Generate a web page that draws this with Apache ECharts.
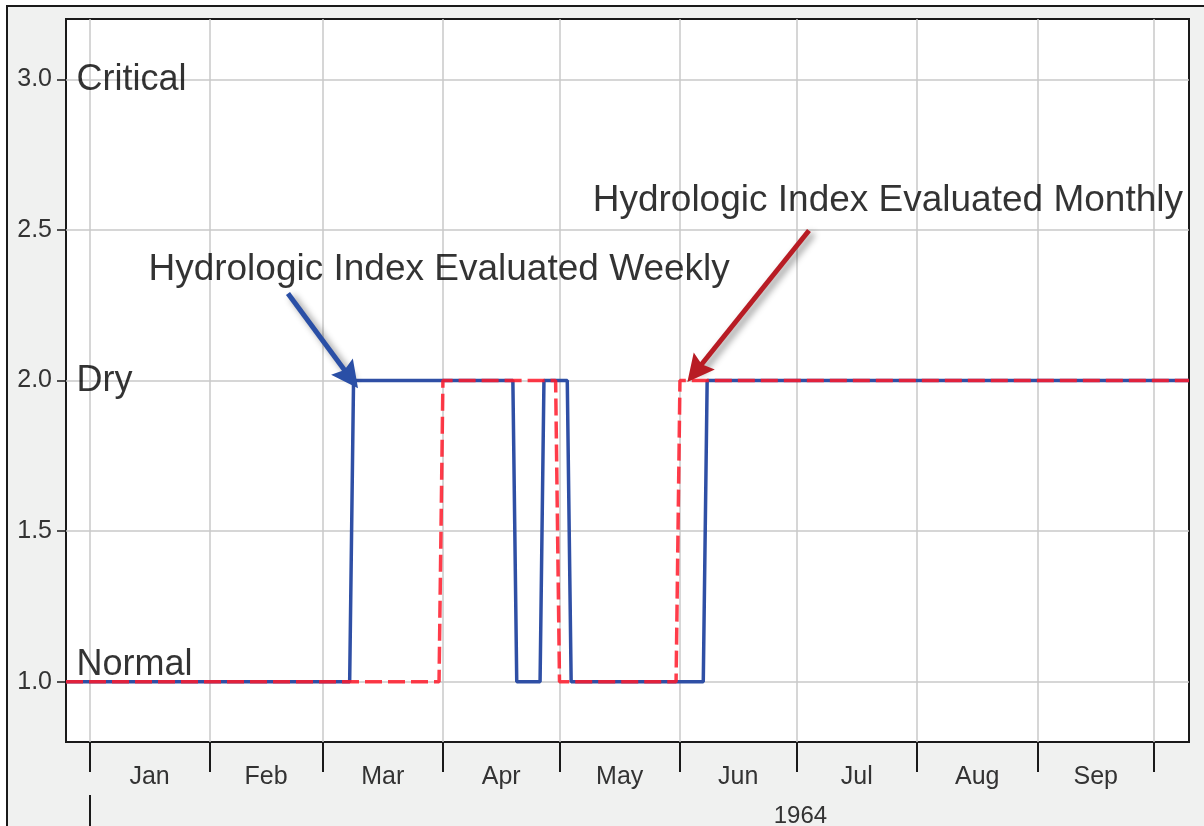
<!DOCTYPE html>
<html>
<head>
<meta charset="utf-8">
<script src="https://cdn.jsdelivr.net/npm/echarts@6/dist/echarts.min.js"></script>
<style>
  html, body { margin: 0; padding: 0; background: #ffffff; overflow: hidden; }
  #wrap { position: absolute; left: 6px; top: 5px; width: 1198px; height: 821px;
          border-left: 2px solid #1a1a1a; border-top: 2px solid #1a1a1a; background: #f0f1f0; }
  #chart { width: 1198px; height: 821px; }
</style>
</head>
<body>
<div id="wrap"><div id="chart"></div></div>
<script>
// ---- data ----
const axisStart = '1963-12-26';
const axisEnd = '1964-10-10';
const monthStarts = ['1964-01-01','1964-02-01','1964-03-01','1964-04-01','1964-05-01','1964-06-01','1964-07-01','1964-08-01','1964-09-01','1964-10-01'];
const monthLabels = ['Jan','Feb','Mar','Apr','May','Jun','Jul','Aug','Sep'];
const yearStart = '1964-01-01';
const yearEnd = '1965-01-01';
const yearLabel = '1964';
const yTicks = [1.0, 1.5, 2.0, 2.5, 3.0];

// Hydrologic index evaluated weekly (change points)
const weeklyDates = ['1963-12-26','1964-03-08','1964-03-09','1964-04-19','1964-04-20','1964-04-26','1964-04-27','1964-05-03','1964-05-04','1964-06-07','1964-06-08','1964-10-10'];
const weeklyIndex = [1, 1, 2, 2, 1, 1, 2, 2, 1, 1, 2, 2];
// Hydrologic index evaluated monthly (change points)
const monthlyDates = ['1963-12-26','1964-03-31','1964-04-01','1964-04-30','1964-05-01','1964-05-31','1964-06-01','1964-10-10'];
const monthlyIndex = [1, 1, 2, 2, 1, 1, 2, 2];

// level names
const levelNames = ['Normal', 'Dry', 'Critical'];
const levelValues = [1.06, 2.0, 3.0];

// annotations (text anchor and arrow tail/tip, in data terms)
const weeklyNote = { text: 'Hydrologic Index Evaluated Weekly', at: ['1964-01-16T02:00', 2.369] };
const monthlyNote = { text: 'Hydrologic Index Evaluated Monthly', at: ['1964-05-09T10:00', 2.598] };
const weeklyArrow = [['1964-02-21T03:00', 2.289], ['1964-03-08T02:00', 2.01]];
const monthlyArrow = [['1964-07-04T05:00', 2.498], ['1964-06-05T02:00', 2.03]];

// ---- helpers ----
function t(s) {
  const [d, tm] = s.split('T');
  const [y, m, dd] = d.split('-').map(Number);
  let h = 0, mi = 0;
  if (tm) { [h, mi] = tm.split(':').map(Number); }
  return Date.UTC(y, m - 1, dd, h, mi);
}
const monthStartT = monthStarts.map(t);
const monthMidT = monthLabels.map((_, i) => (monthStartT[i] + monthStartT[i + 1]) / 2);
const yearMidT = (t(yearStart) + t(yearEnd)) / 2;

const FONT = "'Liberation Sans', Arial, sans-serif";
const HEAD = 'path://M0,0 L13,26 L0,22 L-13,26 Z';

function arrowMarkLine(pts, color) {
  return {
    silent: true, animation: false,
    symbol: ['none', HEAD], symbolSize: 27,
    label: { show: false },
    itemStyle: { color: color },
    lineStyle: { color: color, width: 5, type: 'solid', opacity: 1,
                 shadowBlur: 7, shadowColor: 'rgba(0,0,0,0.45)', shadowOffsetX: 4, shadowOffsetY: 3 },
    emphasis: { disabled: true },
    data: [[ { coord: [t(pts[0][0]), pts[0][1]] },
             { coord: [t(pts[1][0]), pts[1][1]] } ]]
  };
}

const chart = echarts.init(document.getElementById('chart'));
chart.setOption({
  animation: false,
  backgroundColor: 'transparent',
  grid: {
    left: 58, top: 12, width: 1123, height: 728,
    show: true, backgroundColor: '#ffffff', borderColor: '#1a1a1a', borderWidth: 2,
    containLabel: false
  },
  xAxis: [
    {
      type: 'value', gridIndex: 0, position: 'bottom', scale: true,
      min: t(axisStart), max: t(axisEnd),
      axisLine: { show: false },
      axisTick: { show: true, length: 30, customValues: monthStartT,
                  lineStyle: { color: '#1a1a1a', width: 2 } },
      axisLabel: {
        show: true, customValues: monthMidT, margin: 23,
        fontSize: 25, color: '#333', fontFamily: FONT, fontWeight: 'normal',
        formatter: function (v) {
          let best = 0, bd = Infinity;
          monthMidT.forEach((m, i) => { const d = Math.abs(m - v); if (d < bd) { bd = d; best = i; } });
          return monthLabels[best];
        }
      },
      splitLine: { show: true, lineStyle: { color: '#c8c8c8', width: 1.5 } }
    },
    {
      type: 'value', gridIndex: 0, position: 'bottom', offset: 53, scale: true,
      min: t(axisStart), max: t(axisEnd),
      axisLine: { show: false },
      axisTick: { show: true, length: 40, customValues: [t(yearStart)],
                  lineStyle: { color: '#1a1a1a', width: 2 } },
      axisLabel: {
        show: true, customValues: [yearMidT], margin: 9,
        fontSize: 24, color: '#333', fontFamily: FONT, fontWeight: 'normal',
        formatter: function () { return yearLabel; }
      },
      splitLine: { show: false }
    }
  ],
  yAxis: {
    type: 'value', min: 0.8, max: 3.2,
    axisLine: { show: false },
    axisTick: { show: true, length: 9, customValues: yTicks,
                lineStyle: { color: '#1a1a1a', width: 1.5 } },
    axisLabel: { show: true, customValues: yTicks, margin: 14,
                 fontSize: 25, color: '#333', fontFamily: FONT,
                 formatter: v => Number(v).toFixed(1) },
    splitLine: { show: true, lineStyle: { color: '#c8c8c8', width: 1.5 } }
  },
  series: [
    {
      name: 'Weekly', type: 'line', xAxisIndex: 0, z: 3,
      showSymbol: false, symbol: 'none',
      data: weeklyDates.map((d, i) => [t(d), weeklyIndex[i]]),
      lineStyle: { color: '#2f4fa5', width: 3.5 },
      markLine: arrowMarkLine(weeklyArrow, '#2a4fa6')
    },
    {
      name: 'Monthly', type: 'line', xAxisIndex: 0, z: 4,
      showSymbol: false, symbol: 'none',
      data: monthlyDates.map((d, i) => [t(d), monthlyIndex[i]]),
      lineStyle: { color: '#ff1a2a', width: 3.5, type: [17, 6], opacity: 0.85 },
      markLine: arrowMarkLine(monthlyArrow, '#b81c24')
    },
    {
      name: 'Levels', type: 'scatter', xAxisIndex: 0, z: 5, clip: false, silent: true,
      symbolSize: 1, itemStyle: { color: 'rgba(0,0,0,0)' },
      data: levelValues.map((v, i) => [t(axisStart), v]),
      label: {
        show: true, position: 'right', distance: 0, offset: [10, 1],
        fontSize: 36, color: '#000', fontFamily: FONT,
        formatter: p => levelNames[p.dataIndex]
      }
    },
    {
      name: 'Notes', type: 'scatter', xAxisIndex: 0, z: 5, clip: false, silent: true,
      symbolSize: 1, itemStyle: { color: 'rgba(0,0,0,0)' },
      data: [weeklyNote, monthlyNote].map(n => [t(n.at[0]), n.at[1]]),
      label: {
        show: true, position: 'right', distance: 0,
        fontSize: 37, color: '#000', fontFamily: FONT,
        formatter: p => [weeklyNote, monthlyNote][p.dataIndex].text
      }
    }
  ]
});
</script>
</body>
</html>
